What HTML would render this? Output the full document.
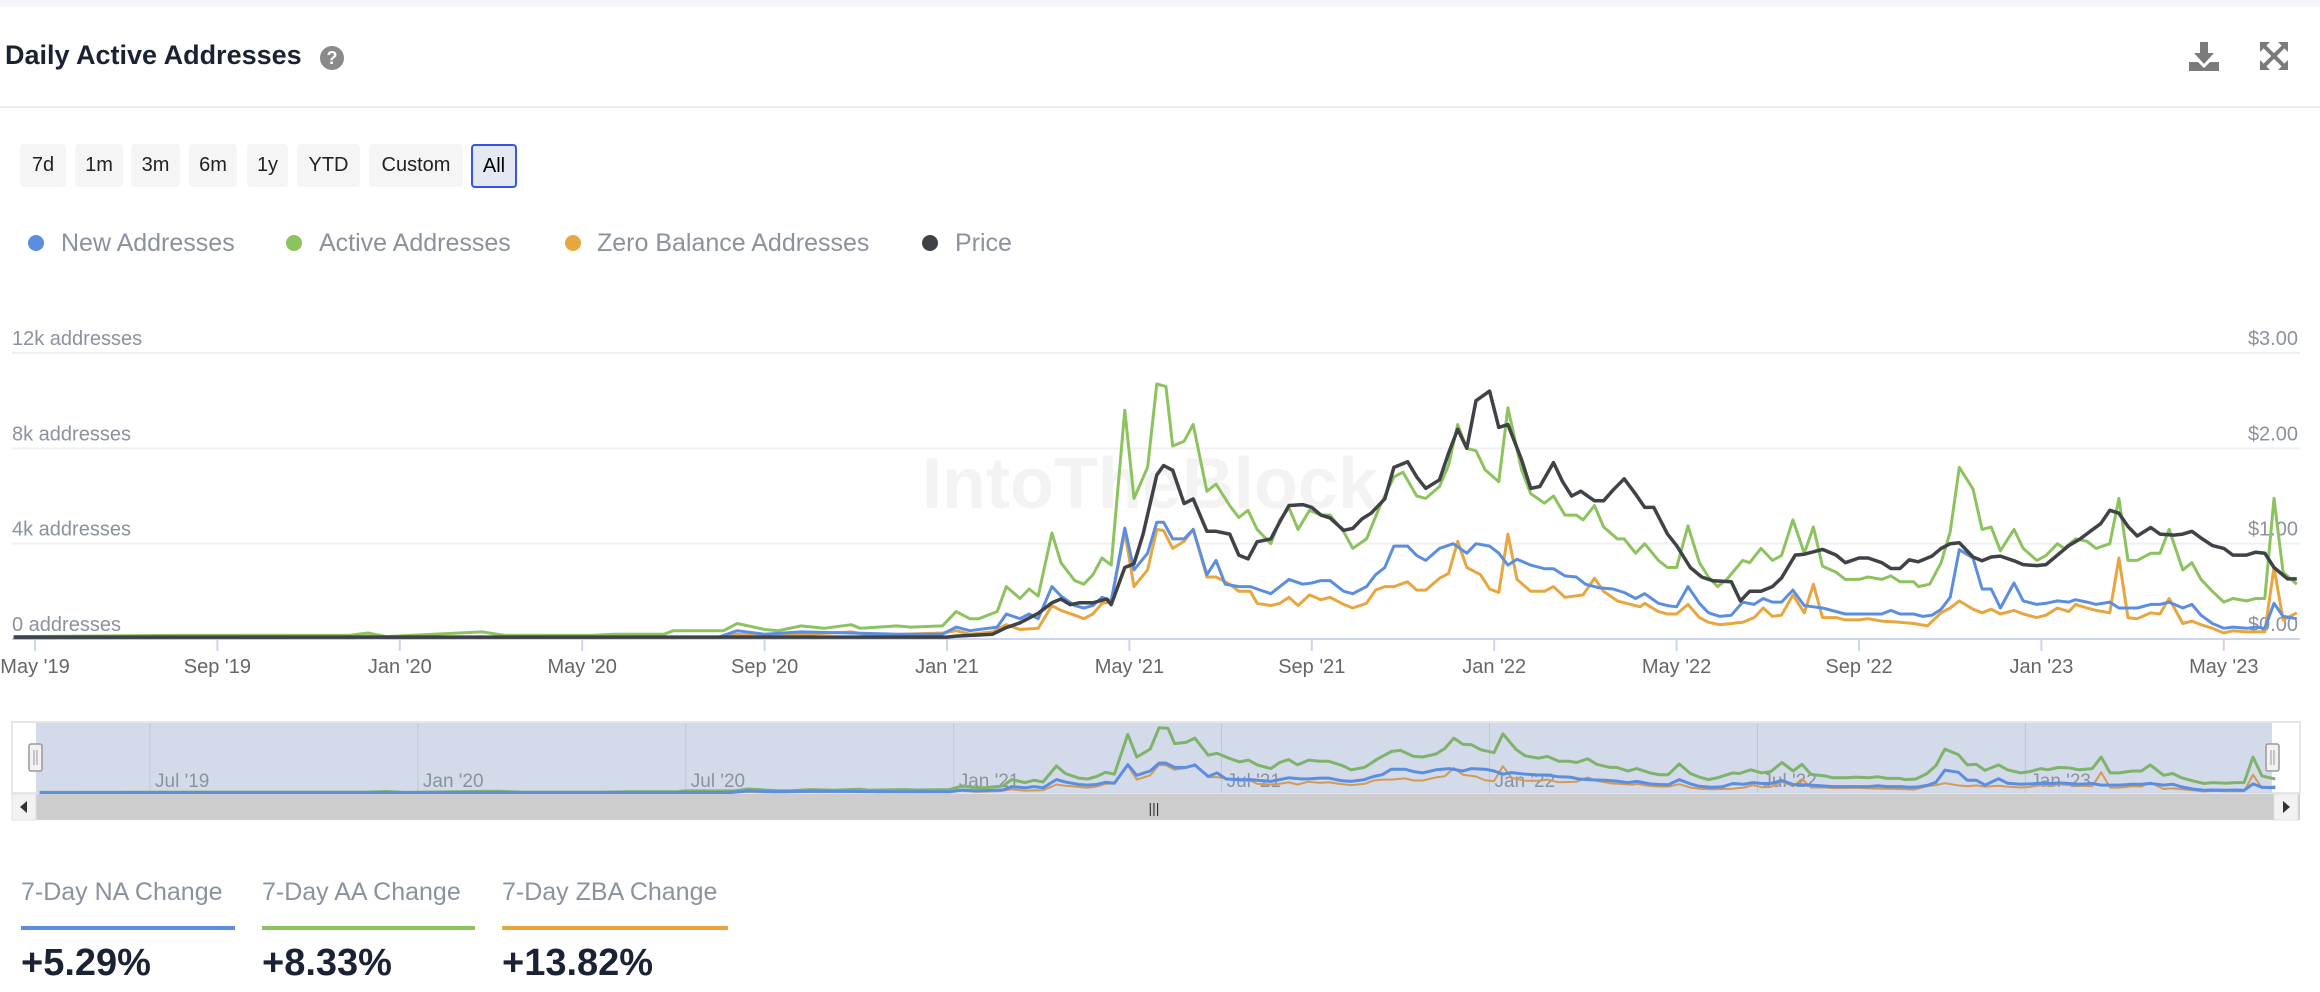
<!DOCTYPE html>
<html><head><meta charset="utf-8">
<style>
body{margin:0;width:2320px;height:992px;background:#fff;font-family:"Liberation Sans",sans-serif;overflow:hidden;position:relative}
.abs{position:absolute}
.btn{position:absolute;top:144px;height:43px;background:#f5f5f5;border-radius:4px;font-size:20px;color:#222;line-height:43px;text-align:center}
.leg{position:absolute;top:228px;font-size:25px;color:#8a939d;line-height:30px}
.dot{position:absolute;top:235px;width:16px;height:16px;border-radius:50%}
.stat{position:absolute;top:878px;font-size:25px;color:#8a939d}
.bar{position:absolute;top:926px;height:4px}
.val{position:absolute;top:942px;font-size:38px;font-weight:bold;color:#1a2233}
</style></head><body>
<div class="abs" style="left:0;top:0;width:2320px;height:7px;background:#f5f6fa"></div>
<div class="abs" style="left:5px;top:40px;font-size:27px;font-weight:bold;color:#1a2233">Daily Active Addresses</div>
<div class="abs" style="left:320px;top:46px;width:24px;height:24px;border-radius:50%;background:#8a8a8a;color:#fff;font-size:18px;font-weight:bold;text-align:center;line-height:24px">?</div>
<svg class="abs" style="left:2188px;top:41px" width="32" height="32" viewBox="0 0 32 32"><rect x="12" y="1" width="8" height="13" fill="#7b7b7b"/><polygon points="6,12 26,12 16,23" fill="#7b7b7b"/><path d="M1 21h9l6 6 6-6h9v9H1z" fill="#7b7b7b"/></svg>
<svg class="abs" style="left:2260px;top:42px" width="28" height="28" viewBox="0 0 28 28"><g stroke="#7b7b7b" stroke-width="4"><line x1="4" y1="4" x2="24" y2="24"/><line x1="24" y1="4" x2="4" y2="24"/></g><g fill="#7b7b7b"><polygon points="0,0 10,0 0,10"/><polygon points="28,0 18,0 28,10"/><polygon points="0,28 10,28 0,18"/><polygon points="28,28 18,28 28,18"/></g></svg>
<div class="abs" style="left:0;top:106px;width:2320px;height:2px;background:#ececec"></div>
<div class="btn" style="left:20px;width:46px">7d</div>
<div class="btn" style="left:75px;width:48px">1m</div>
<div class="btn" style="left:131px;width:49px">3m</div>
<div class="btn" style="left:189px;width:48px">6m</div>
<div class="btn" style="left:247px;width:41px">1y</div>
<div class="btn" style="left:297px;width:63px">YTD</div>
<div class="btn" style="left:369px;width:94px">Custom</div>
<div class="btn" style="left:471px;width:42px;height:40px;line-height:40px;background:#e4e8f2;border:2px solid #3355ee;color:#000">All</div>
<div class="dot" style="left:28px;background:#5b8ee0"></div>
<div class="leg" style="left:61px">New Addresses</div>
<div class="dot" style="left:286px;background:#8cc35f"></div>
<div class="leg" style="left:319px">Active Addresses</div>
<div class="dot" style="left:565px;background:#e8a640"></div>
<div class="leg" style="left:597px">Zero Balance Addresses</div>
<div class="dot" style="left:922px;background:#3f4247"></div>
<div class="leg" style="left:955px">Price</div>

<svg class="abs" id="chart" style="left:0;top:0" width="2320" height="830"></svg>

<div class="stat" style="left:21px">7-Day NA Change</div>
<div class="bar" style="left:21px;width:214px;background:#5b8ee0"></div>
<div class="val" style="left:21px">+5.29%</div>
<div class="stat" style="left:262px">7-Day AA Change</div>
<div class="bar" style="left:262px;width:213px;background:#8cc35f"></div>
<div class="val" style="left:262px">+8.33%</div>
<div class="stat" style="left:502px">7-Day ZBA Change</div>
<div class="bar" style="left:502px;width:226px;background:#e8a640"></div>
<div class="val" style="left:502px">+13.82%</div>

<script>
// months since May 2019
const greenT=[-0.47,3.1,6.9,7.3,7.7,9.8,10.3,12.2,12.7,13.8,14.0,15.1,15.4,16.0,16.3,16.8,17.3,17.9,18.1,18.9,19.2,19.9,20.2,20.5,20.7,21.1,21.3,21.6,21.8,22.0,22.3,22.5,22.8,23.0,23.2,23.4,23.6,23.9,24.1,24.4,24.6,24.8,24.95,25.2,25.4,25.7,25.9,26.2,26.4,26.6,26.8,27.1,27.3,27.5,27.7,27.95,28.2,28.4,28.7,28.9,29.2,29.5,29.8,30.0,30.3,30.5,30.8,31.0,31.2,31.4,31.6,31.8,32.1,32.3,32.6,32.8,33.1,33.3,33.55,33.8,33.95,34.2,34.4,34.7,34.85,35.1,35.3,35.6,35.8,36.0,36.25,36.5,36.7,36.9,37.1,37.45,37.6,37.85,38.1,38.3,38.55,38.8,39.0,39.2,39.5,39.7,40.0,40.2,40.5,40.7,40.9,41.2,41.3,41.55,41.8,42.0,42.2,42.5,42.7,42.9,43.1,43.4,43.6,43.9,44.1,44.35,44.5,44.75,45.0,45.2,45.5,45.7,45.9,46.1,46.4,46.6,46.8,47.1,47.3,47.5,47.75,48.0,48.2,48.5,48.7,48.9,49.1,49.3,49.6];
const greenV=[0.1,0.15,0.15,0.25,0.1,0.3,0.15,0.15,0.2,0.2,0.35,0.35,0.65,0.4,0.35,0.55,0.45,0.6,0.45,0.55,0.5,0.55,1.15,0.85,0.85,1.15,2.2,1.7,2.1,1.8,4.45,3.2,2.45,2.3,2.7,3.4,3.1,9.6,5.9,7.2,10.7,10.6,8.1,8.3,9.0,6.2,6.5,5.6,5.1,5.4,4.6,4.0,5.0,5.5,4.6,5.4,5.2,5.2,4.5,3.8,4.2,5.6,6.8,7.0,6.0,5.9,6.4,7.3,9.0,8.0,7.9,7.1,6.6,9.7,7.1,6.1,5.7,6.0,5.2,5.2,5.0,5.6,4.7,4.2,4.2,3.6,4.0,3.3,3.0,3.0,4.75,3.2,2.6,2.2,2.5,3.3,3.2,3.8,3.3,3.5,5.0,3.6,4.7,3.05,2.8,2.5,2.5,2.6,2.5,2.65,2.4,2.4,2.2,2.3,3.2,4.5,7.2,6.3,4.6,4.7,3.7,4.6,3.8,3.3,3.5,4.0,3.8,4.2,4.1,3.8,4.0,5.9,3.3,3.3,3.6,3.6,4.6,2.9,3.2,2.5,2.0,1.55,1.7,1.6,1.7,1.7,5.9,2.8,2.3];
const blueT=[-0.47,15.0,15.4,16.0,16.8,17.9,18.9,19.9,20.2,20.5,21.1,21.3,21.6,21.8,22.0,22.3,22.5,22.8,23.0,23.2,23.4,23.6,23.9,24.1,24.4,24.6,24.75,24.95,25.2,25.4,25.7,25.9,26.1,26.4,26.65,26.8,27.1,27.3,27.5,27.8,28.0,28.2,28.4,28.7,28.9,29.2,29.4,29.6,29.8,30.1,30.3,30.5,30.8,31.1,31.4,31.6,31.9,32.1,32.3,32.5,32.8,33.1,33.3,33.55,33.8,34.0,34.3,34.6,34.85,35.1,35.3,35.6,35.8,36.0,36.25,36.5,36.7,36.95,37.2,37.45,37.7,37.9,38.1,38.3,38.55,38.8,39.0,39.2,39.7,40.2,40.5,40.7,40.9,41.2,41.4,41.6,41.8,42.0,42.2,42.5,42.7,42.9,43.1,43.4,43.6,43.9,44.1,44.35,44.6,44.75,45.0,45.2,45.5,45.7,46.1,46.4,46.6,46.8,47.1,47.3,47.5,47.75,48.0,48.2,48.5,48.7,48.9,49.1,49.3,49.6];
const blueV=[0.05,0.08,0.35,0.2,0.3,0.25,0.2,0.2,0.5,0.35,0.5,1.05,0.85,1.05,0.85,2.2,1.8,1.4,1.3,1.4,1.75,1.6,4.65,2.9,3.6,4.9,4.9,4.2,4.2,4.6,2.7,3.3,2.3,2.2,2.2,2.1,1.9,2.2,2.5,2.3,2.35,2.45,2.45,2.0,1.9,2.2,2.7,3.0,3.9,3.9,3.5,3.3,3.8,4.0,3.6,4.0,3.9,3.6,3.1,3.35,3.1,2.95,2.95,2.65,2.6,2.3,2.15,2.1,1.95,1.7,1.9,1.5,1.4,1.35,2.2,1.5,1.1,0.95,1.0,1.55,1.45,1.7,1.55,1.55,2.05,1.4,1.35,1.3,1.05,1.05,1.05,1.2,1.05,1.05,0.95,1.0,1.25,1.75,3.75,3.4,2.1,2.1,1.3,2.35,1.6,1.45,1.5,1.6,1.55,1.65,1.55,1.45,1.55,1.3,1.3,1.45,1.45,1.55,1.3,1.45,1.0,0.65,0.45,0.5,0.45,0.5,0.45,1.5,0.95,0.85];
const zeroT=[-0.47,7.0,7.3,7.7,15.0,15.4,16.0,17.9,18.3,19.9,20.2,20.5,21.0,21.3,21.6,22.0,22.3,22.5,22.8,23.0,23.2,23.4,23.6,23.9,24.1,24.4,24.6,24.75,24.95,25.2,25.4,25.7,25.9,26.2,26.4,26.65,26.8,27.1,27.3,27.5,27.7,27.95,28.2,28.4,28.7,28.9,29.2,29.4,29.6,29.8,30.1,30.3,30.5,30.8,31.0,31.2,31.4,31.7,31.9,32.1,32.3,32.5,32.8,33.1,33.3,33.55,33.95,34.2,34.4,34.7,34.9,35.2,35.3,35.6,35.8,36.0,36.25,36.5,36.7,36.95,37.2,37.45,37.7,37.9,38.1,38.3,38.55,38.8,39.0,39.2,39.5,39.7,40.0,40.2,40.5,40.9,41.2,41.5,41.8,42.0,42.2,42.5,42.7,42.9,43.1,43.4,43.6,43.9,44.1,44.35,44.6,44.75,45.0,45.2,45.5,45.7,45.9,46.1,46.4,46.6,46.8,47.1,47.3,47.5,47.75,48.0,48.2,48.5,48.7,48.9,49.1,49.3,49.6];
const zeroV=[0.05,0.05,0.12,0.05,0.08,0.2,0.1,0.3,0.15,0.25,0.35,0.2,0.3,0.6,0.4,0.45,1.4,1.2,1.0,0.85,1.05,1.5,1.55,4.5,2.2,2.9,4.6,4.55,3.8,4.1,4.6,2.6,2.6,2.3,2.0,2.0,1.5,1.4,1.5,1.75,1.4,1.85,1.65,1.75,1.45,1.3,1.5,2.05,2.2,2.2,2.4,2.05,2.05,2.55,2.75,4.1,3.0,2.7,2.1,1.95,4.4,2.5,2.0,2.0,2.2,1.75,1.85,2.55,2.0,1.6,1.5,1.35,1.5,1.15,1.05,1.05,1.45,0.9,0.7,0.6,0.65,0.7,0.9,1.3,0.95,1.0,1.85,1.1,2.3,0.9,0.9,0.8,0.8,0.85,0.75,0.7,0.65,0.55,1.1,1.3,1.6,1.25,1.1,1.25,1.05,1.2,1.05,0.9,1.0,1.3,1.15,1.45,1.3,1.2,1.1,3.4,0.9,0.85,1.1,1.05,1.7,0.65,0.75,0.6,0.45,0.25,0.35,0.3,0.3,0.3,3.0,0.8,1.1];
const priceT=[-0.47,20.0,20.2,21.0,21.3,21.6,22.0,22.3,22.5,22.7,22.9,23.2,23.5,23.6,23.9,24.1,24.3,24.6,24.75,24.95,25.2,25.4,25.7,25.9,26.2,26.4,26.6,26.8,27.1,27.3,27.5,27.8,28.0,28.2,28.4,28.7,28.9,29.1,29.3,29.6,29.8,30.1,30.3,30.5,30.8,31.0,31.2,31.4,31.6,31.9,32.1,32.3,32.6,32.8,33.0,33.3,33.5,33.7,33.9,34.2,34.4,34.6,34.85,35.1,35.3,35.5,35.8,36.0,36.3,36.55,36.8,37.2,37.4,37.6,37.85,38.1,38.3,38.6,38.8,39.2,39.5,39.7,40.0,40.2,40.5,40.7,40.9,41.1,41.3,41.6,41.8,42.0,42.2,42.5,42.7,42.9,43.1,43.4,43.6,43.9,44.1,44.35,44.6,44.85,45.1,45.3,45.5,45.7,45.9,46.1,46.4,46.6,46.9,47.1,47.3,47.5,47.75,48.0,48.2,48.5,48.7,48.9,49.1,49.4,49.6];
const priceV=[0.02,0.02,0.03,0.05,0.12,0.17,0.27,0.38,0.42,0.36,0.38,0.38,0.42,0.36,0.75,0.79,1.1,1.72,1.82,1.77,1.42,1.47,1.13,1.13,1.1,0.88,0.84,1.02,1.05,1.23,1.4,1.41,1.38,1.3,1.27,1.14,1.16,1.26,1.32,1.47,1.8,1.86,1.7,1.58,1.67,1.95,2.2,2.0,2.5,2.6,2.22,2.25,1.88,1.58,1.6,1.85,1.65,1.5,1.55,1.45,1.45,1.56,1.68,1.52,1.38,1.38,1.1,0.98,0.75,0.65,0.61,0.6,0.4,0.5,0.5,0.55,0.64,0.88,0.89,0.94,0.88,0.8,0.85,0.85,0.8,0.74,0.74,0.83,0.81,0.87,0.95,1.0,1.01,0.86,0.82,0.86,0.87,0.82,0.78,0.77,0.78,0.88,0.98,1.05,1.14,1.21,1.35,1.32,1.18,1.08,1.17,1.1,1.09,1.1,1.13,1.06,0.98,0.95,0.88,0.88,0.91,0.9,0.75,0.63,0.63];
const mainTicks=["May '19","Sep '19","Jan '20","May '20","Sep '20","Jan '21","May '21","Sep '21","Jan '22","May '22","Sep '22","Jan '23","May '23"];
const navTicks=["Jul '19","Jan '20","Jul '20","Jan '21","Jul '21","Jan '22","Jul '22","Jan '23"];
const leftTicks=["0 addresses","4k addresses","8k addresses","12k addresses"];
const rightTicks=["$0.00","$1.00","$2.00","$3.00"];

const NS="http://www.w3.org/2000/svg";
const svg=document.getElementById('chart');
function xS(t){return 35+t*45.6;}
function yS(k){return 639-k*23.83;}
function pS(p){return 639-p*95.33;}
function nX(t){return 150+(t-2)*44.65;}
function nY(k){return 793-k*6.1;}
function mk(tag,at){const e=document.createElementNS(NS,tag);for(const k in at)e.setAttribute(k,at[k]);svg.appendChild(e);return e;}

leftTicks.forEach((l,i)=>{
  const g=mk('line',{x1:12,x2:2300,y1:yS(i*4),y2:yS(i*4),stroke:i==0?'#ccd6eb':'#f0f0f0','stroke-width':2});
  
  
  const t=mk('text',{x:12,y:yS(i*4)-8,fill:'#8a939d','font-size':20,'font-family':'Liberation Sans'});
  t.textContent=l;
  
  
});
rightTicks.forEach((l,i)=>{
  const t=mk('text',{x:2298,y:pS(i)-8,fill:'#8a939d','font-size':20,'text-anchor':'end','font-family':'Liberation Sans'});
  t.textContent=l;
  
  
});
const wm=mk('text',{x:1150,y:508,fill:'#f3f3f3','font-size':72,'font-weight':'bold','text-anchor':'middle','font-family':'Liberation Sans'});
wm.textContent='IntoTheBlock';


mainTicks.forEach((l,i)=>{
  const x=xS(i*4);
  const tk=mk('line',{x1:x,x2:x,y1:639,y2:651,stroke:'#ccd6eb','stroke-width':2});
  
  
  const t=mk('text',{x:x,y:673,fill:'#666','font-size':20,'text-anchor':'middle','font-family':'Liberation Sans'});
  t.textContent=l;
  
  
});
function line(T,V,fx,fy,color,w,name){
  const d=T.map((t,i)=>(i?'L':'M')+fx(t).toFixed(1)+' '+fy(V[i]).toFixed(1)).join(' ');
  const p=mk('path',{d:d,fill:'none',stroke:color,'stroke-width':w,'stroke-linejoin':'round'});
  
  
}
line(greenT,greenV,xS,yS,'#8cc35f',3,'active-addresses-line');
line(zeroT,zeroV,xS,yS,'#e8a640',3,'zero-balance-line');
line(blueT,blueV,xS,yS,'#5b8ee0',3,'new-addresses-line');
line(priceT,priceV,xS,pS,'#3f4247',3.5,'price-line');

const nb=mk('rect',{x:12,y:722,width:2288,height:71,fill:'#fff',stroke:'#e6e6e6','stroke-width':2});


const nm=mk('rect',{x:36,y:723,width:2236,height:70,fill:'#d3dbeb'});


navTicks.forEach((l,i)=>{
  const x=nX(2+i*6);
  const g=mk('line',{x1:x,x2:x,y1:723,y2:793,stroke:'#bfc6d6','stroke-width':1});
  
  
  const t=mk('text',{x:x+5,y:787,fill:'#8a939d','font-size':19,'font-family':'Liberation Sans'});
  t.textContent=l;
  
  
});
line(greenT,greenV,nX,nY,'#7fb26a',3,'navigator-active-line');
line(zeroT,zeroV,nX,nY,'#d39a56',2,'navigator-zero-line');
line(blueT,blueV,nX,nY,'#5b8ee0',3,'navigator-new-line');
const sb=mk('rect',{x:12,y:794,width:2288,height:26,fill:'#cdcdcd'});


[[12,'scroll-left-button'],[2274,'scroll-right-button']].forEach(([x,n])=>{
  const b=mk('rect',{x:x,y:794,width:24,height:26,fill:'#f2f2f2',stroke:'#e0e0e0'});
  
  
});
const la=mk('path',{d:'M27 801 L20 807 L27 813Z',fill:'#333'});


const ra=mk('path',{d:'M2283 801 L2290 807 L2283 813Z',fill:'#333'});


const grip=mk('text',{x:1154,y:813,fill:'#333','font-size':14,'text-anchor':'middle','font-family':'Liberation Sans'});
grip.textContent='|||';


[[29,'navigator-left-handle'],[2266,'navigator-right-handle']].forEach(([x,n])=>{
  const h=mk('rect',{x:x,y:744,width:13,height:27,fill:'#f2f2f2',stroke:'#999','stroke-width':1.5,rx:2});
  
  
  const g1=mk('line',{x1:x+5,x2:x+5,y1:750,y2:765,stroke:'#999'});
  
  
  const g2=mk('line',{x1:x+8,x2:x+8,y1:750,y2:765,stroke:'#999'});
  
  
});
</script>
</body></html>
